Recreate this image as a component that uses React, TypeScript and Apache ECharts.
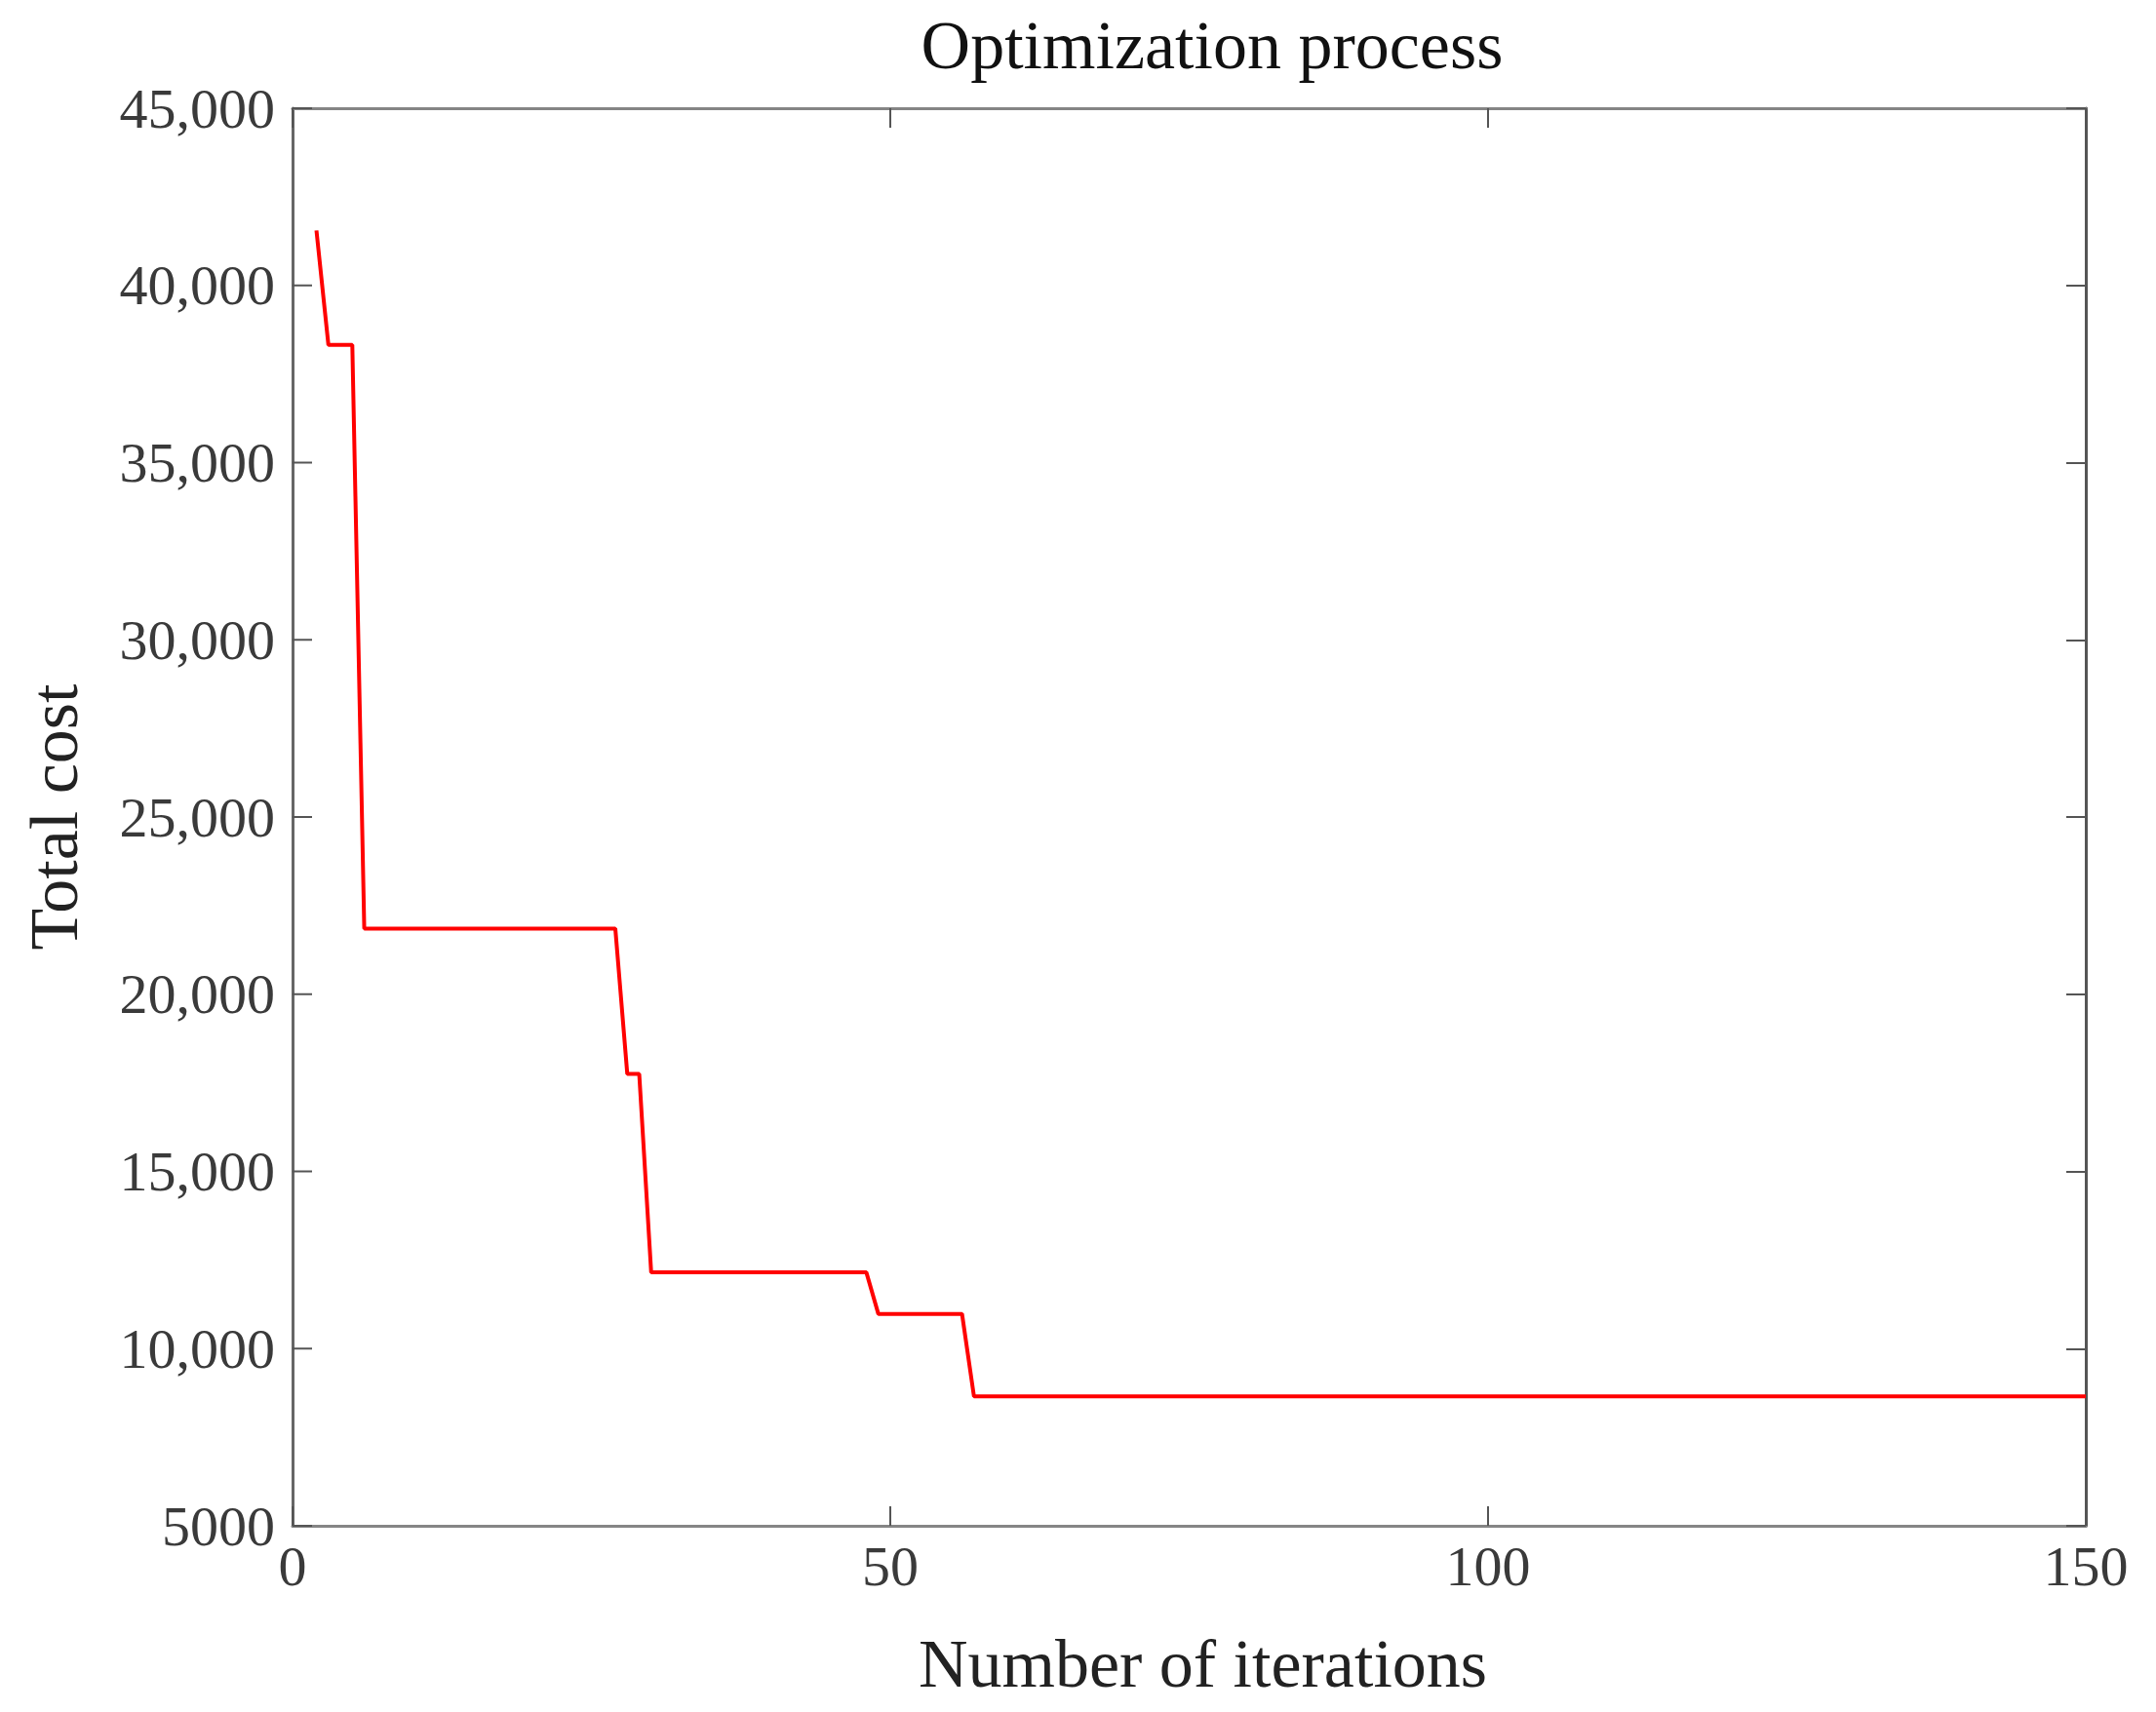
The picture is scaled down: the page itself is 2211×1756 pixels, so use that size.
import React, { useEffect, useRef } from "react";
import * as echarts from "echarts";

// Breakpoints of the best-cost curve (iteration, total cost)
const iterations = [2, 3, 5, 6, 27, 28, 29, 30, 48, 49, 56, 57, 150];
const costs = [41550, 38320, 38320, 21850, 21850, 17750, 17750, 12150, 12150, 10980, 10980, 8650, 8650];

const xTicks = [0, 50, 100, 150];
const yTicks = [5000, 10000, 15000, 20000, 25000, 30000, 35000, 40000, 45000];

const FONT = "'Liberation Serif', 'DejaVu Serif', serif";

const GRID_LEFT = 300;
const GRID_RIGHT = 72;
const GRID_TOP = 111;
const GRID_BOTTOM = 191;
const W = 2211;
const H = 1756;
const TICK_LEN = 20;

export default function App() {
  const ref = useRef<HTMLDivElement>(null);

  useEffect(() => {
    document.body.style.margin = "0";
    if (!ref.current) return;
    const chart = echarts.init(ref.current, undefined, { renderer: "svg" });

    const data = iterations.map((x, i) => [x, costs[i]]);
    const frameColor = "#858585";
    const tickStyle = { stroke: "#555555", lineWidth: 2 };
    const mkTick = () => ({ show: true, inside: true, length: TICK_LEN, lineStyle: { color: "#555555", width: 2 } });

    const yFmt = (v: number) => (v >= 10000 ? v.toLocaleString("en-US") : String(v));

    const xBase = { type: "value", min: xTicks[0], max: xTicks[xTicks.length - 1], interval: 50, splitLine: { show: false } };
    const yBase = { type: "value", min: yTicks[0], max: yTicks[yTicks.length - 1], interval: 5000, splitLine: { show: false } };

    const yMin = yTicks[0];
    const xMin = xTicks[0];

    chart.setOption({
      animation: false,
      backgroundColor: "#ffffff",
      title: {
        text: "Optimization process",
        left: 1238,
        top: 6,
        textAlign: "center",
        textStyle: { fontFamily: FONT, fontSize: 70, fontWeight: "normal", color: "#111111" },
      },
      grid: { left: GRID_LEFT, right: GRID_RIGHT, top: GRID_TOP, bottom: GRID_BOTTOM, containLabel: false },
      xAxis: [
        {
          ...xBase,
          position: "bottom",
          name: "Number of iterations",
          nameLocation: "middle",
          nameGap: 106,
          nameTextStyle: { fontFamily: FONT, fontSize: 70, color: "#222222", padding: [0, 0, 0, 28] },
          axisLine: { show: true, onZero: false, lineStyle: { color: frameColor, width: 3 } },
          axisTick: { show: false },
          axisLabel: { fontFamily: FONT, fontSize: 58, color: "#3a3a3a", margin: 12 },
        },
        {
          ...xBase,
          position: "top",
          axisLine: { show: true, onZero: false, lineStyle: { color: frameColor, width: 3 } },
          axisTick: mkTick(),
          axisLabel: { show: false },
        },
      ],
      yAxis: [
        {
          ...yBase,
          position: "left",
          name: "Total cost",
          nameLocation: "middle",
          nameGap: 210,
          nameTextStyle: { fontFamily: FONT, fontSize: 70, color: "#222222" },
          axisLine: { show: true, onZero: false, lineStyle: { color: "#666666", width: 3 } },
          axisTick: { show: false },
          axisLabel: { fontFamily: FONT, fontSize: 58, color: "#3a3a3a", margin: 18, formatter: yFmt },
        },
        {
          ...yBase,
          position: "right",
          axisLine: { show: true, onZero: false, lineStyle: { color: "#555555", width: 3 } },
          axisTick: mkTick(),
          axisLabel: { show: false },
        },
      ],
      series: [
        {
          // inward tick marks along the bottom edge
          type: "custom",
          xAxisIndex: 0,
          yAxisIndex: 0,
          silent: true,
          clip: false,
          data: xTicks.map((t) => [t]),
          renderItem: (_p: any, api: any) => {
            const pt = api.coord([api.value(0), yMin]);
            return {
              type: "line",
              shape: { x1: pt[0], y1: pt[1], x2: pt[0], y2: pt[1] - TICK_LEN },
              style: tickStyle,
            };
          },
          z: 3,
        },
        {
          // inward tick marks along the left edge
          type: "custom",
          xAxisIndex: 0,
          yAxisIndex: 0,
          silent: true,
          clip: false,
          data: yTicks.map((t) => [xMin, t]),
          encode: { x: 0, y: 1 },
          renderItem: (_p: any, api: any) => {
            const pt = api.coord([xMin, api.value(1)]);
            return {
              type: "line",
              shape: { x1: pt[0], y1: pt[1], x2: pt[0] + TICK_LEN, y2: pt[1] },
              style: tickStyle,
            };
          },
          z: 3,
        },
        {
          type: "line",
          xAxisIndex: 0,
          yAxisIndex: 0,
          data,
          symbol: "none",
          lineStyle: { color: "#ff0000", width: 4 },
          z: 5,
        },
      ],
    });

    return () => chart.dispose();
  }, []);

  return <div ref={ref} style={{ width: W, height: H }} />;
}
